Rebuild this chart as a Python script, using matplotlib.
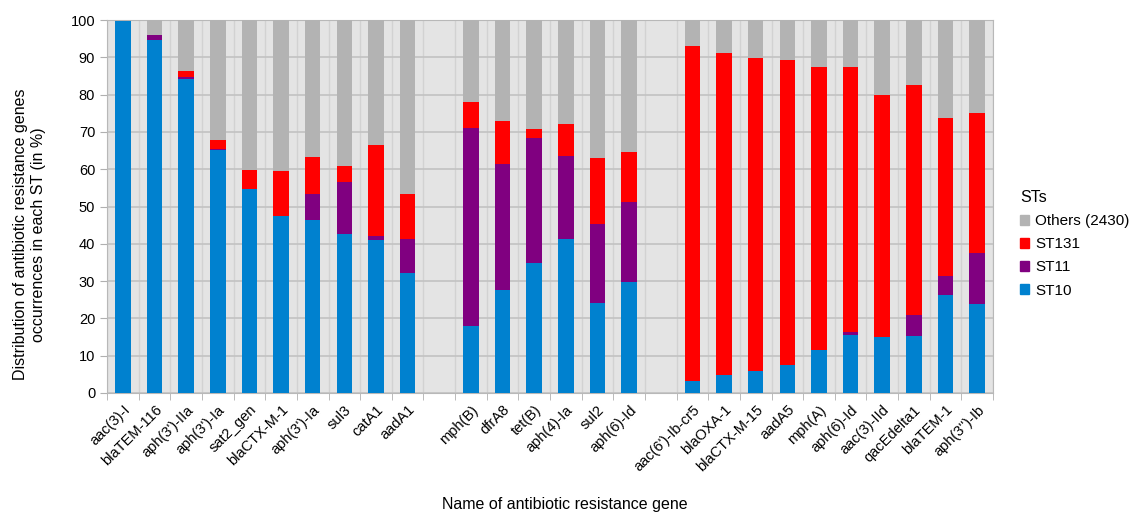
import numpy as np
import matplotlib
matplotlib.use('Agg')
import matplotlib.pyplot as plt
from matplotlib.patches import Patch

plt.rcParams['font.family'] = ['Liberation Sans', 'DejaVu Sans']

# Genes in three groups (an empty slot separates the groups)
group1 = ["aac(3)-I", "blaTEM-116", "aph(3')-IIa", "aph(3')-Ia", "sat2_gen",
          "blaCTX-M-1", "aph(3')-Ia", "sul3", "catA1", "aadA1"]
group2 = ["mph(B)", "dfrA8", "tet(B)", "aph(4)-Ia", "sul2", "aph(6)-Id"]
group3 = ["aac(6')-Ib-cr5", "blaOXA-1", "blaCTX-M-15", "aadA5", "mph(A)",
          "aph(6)-Id", "aac(3)-IId", "qacEdelta1", "blaTEM-1", "aph(3'')-Ib"]

# share (%) of each ST per gene
st10_1 = [99.6, 94.6, 84.3, 65.1, 54.6, 47.5, 46.5, 42.7, 41.1, 32.3]
st11_1 = [0.0, 1.5, 0.5, 0.4, 0.2, 0.0, 6.8, 14.0, 1.1, 9.0]
st131_1 = [0.0, 0.0, 1.6, 2.3, 5.1, 12.1, 10.1, 4.1, 24.4, 12.1]

st10_2 = [17.9, 27.6, 34.8, 41.4, 24.1, 29.8]
st11_2 = [53.2, 33.7, 33.5, 22.1, 21.1, 21.3]
st131_2 = [6.8, 11.7, 2.5, 8.5, 17.7, 13.4]

st10_3 = [3.3, 4.8, 5.9, 7.6, 11.4, 15.6, 15.0, 15.4, 26.3, 23.9]
st11_3 = [0.0, 0.0, 0.0, 0.0, 0.0, 0.7, 0.0, 5.5, 5.2, 13.6]
st131_3 = [89.7, 86.3, 83.9, 81.8, 76.0, 71.1, 64.9, 61.6, 42.2, 37.6]

st_names = ["Others (2430)", "ST131", "ST11", "ST10"]
st_colors = ["#b3b3b3", "#ff0000", "#800080", "#0081cf"]

genes = group1 + group2 + group3
st10 = np.array(st10_1 + st10_2 + st10_3)
st11 = np.array(st11_1 + st11_2 + st11_3)
st131 = np.array(st131_1 + st131_2 + st131_3)
others = 100 - st10 - st11 - st131

# x slots with one blank slot between the groups
pos = np.concatenate([np.arange(len(group1)),
                      len(group1) + 1 + np.arange(len(group2)),
                      len(group1) + len(group2) + 2 + np.arange(len(group3))])
n_slots = len(genes) + 2

fig = plt.figure(figsize=(11.35, 5.14), dpi=100)
ax = fig.add_axes([107 / 1135, 1 - 393 / 514, 886 / 1135, 373 / 514])
ax.set_facecolor('#e4e4e4')

w = 0.49
ax.bar(pos, st10, w, color=st_colors[3], zorder=3)
ax.bar(pos, st11, w, bottom=st10, color=st_colors[2], zorder=3)
ax.bar(pos, st131, w, bottom=st10 + st11, color=st_colors[1], zorder=3)
ax.bar(pos, others, w, bottom=st10 + st11 + st131, color=st_colors[0], zorder=3)

ax.set_xlim(-0.5, n_slots - 0.5)
ax.set_ylim(0, 100)
ax.set_yticks(range(0, 101, 10))

ax.set_xticks(pos)
ax.set_xticklabels(genes, rotation=45, ha='right', rotation_mode='anchor', fontsize=10.5)
ax.set_xticks(np.arange(n_slots + 1) - 0.5, minor=True)
ax.tick_params(axis='x', which='major', length=0, pad=7)
ax.tick_params(axis='x', which='minor', length=5, color='#b0b0b0')
ax.tick_params(axis='y', length=5, color='#b0b0b0', labelsize=10.5)

ax.grid(axis='y', color='#c2c2c2', linewidth=1.2, zorder=0)
ax.grid(axis='x', which='minor', color='#d2d2d2', linewidth=1.0, zorder=0)
ax.set_axisbelow(True)
for s in ax.spines.values():
    s.set_color('#b8b8b8')

ax.set_ylabel('Distribution of antibiotic resistance genes\noccurrences in each ST (in %)',
              fontsize=11.5)
ax.yaxis.set_label_coords(-0.069, 0.425)
fig.text(565 / 1135, 1 - 505 / 514, 'Name of antibiotic resistance gene',
         ha='center', va='center', fontsize=11.5)

handles = [Patch(color=c, label=n) for n, c in zip(st_names, st_colors)]
leg = ax.legend(handles=handles, title='STs', loc='center left',
                bbox_to_anchor=(1.015, 0.40), frameon=False, fontsize=11,
                title_fontsize=11.5, handlelength=0.6, handleheight=0.6,
                handletextpad=0.4, labelspacing=0.6, borderaxespad=0.5)
leg._legend_box.align = 'left'

plt.savefig('out.png', dpi=100)
